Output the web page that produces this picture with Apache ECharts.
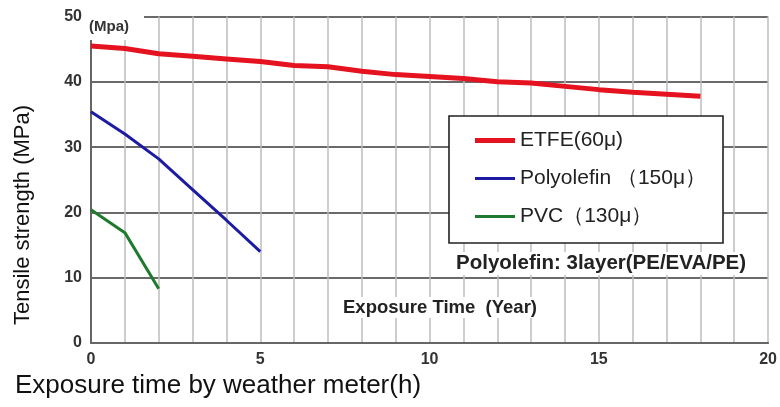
<!DOCTYPE html>
<html>
<head>
<meta charset="utf-8">
<script src="https://cdn.jsdelivr.net/npm/echarts@6/dist/echarts.min.js"></script>
<style>
  html, body { margin: 0; padding: 0; background: #fff; }
  #chart { width: 780px; height: 407px; }
</style>
</head>
<body>
<div id="chart"></div>
<script>
// Tensile strength retention of greenhouse films over outdoor exposure
const years = [0, 1, 2, 3, 4, 5, 6, 7, 8, 9, 10, 11, 12, 13, 14, 15, 16, 17, 18];
const etfe = [45.5, 45.1, 44.3, 43.9, 43.5, 43.1, 42.5, 42.3, 41.6, 41.1, 40.8, 40.5, 40.0, 39.8, 39.3, 38.8, 38.4, 38.1, 37.8];
const polyolefin = [35.4, 32.0, 28.2, 23.5, 18.8, 14.0];
const pvc = [20.4, 16.9, 8.3];
const seriesNames = ['ETFE(60\u03bc)', 'Polyolefin \uff08150\u03bc\uff09', 'PVC\uff08130\u03bc\uff09'];
const xTicks = [0, 5, 10, 15, 20];
const yTicks = [0, 10, 20, 30, 40, 50];

const pairs = (xs, ys) => ys.map((v, i) => [xs[i], v]);

const chart = echarts.init(document.getElementById('chart'), null, { renderer: 'canvas' });

const labelFont = { fontFamily: 'Liberation Sans, Arial, sans-serif', fontWeight: 'bold' };
const thickIcon = 'path://M0,4 L40,4 L40,9 L0,9 Z';
const thinIcon = 'path://M0,5 L40,5 L40,8 L0,8 Z';

chart.setOption({
  animation: false,
  backgroundColor: '#fff',
  grid: { left: 91, right: 4, top: 16.5, bottom: 64, containLabel: false },
  xAxis: {
    type: 'value',
    min: 0, max: 20, interval: 1,
    axisLine: { show: true, lineStyle: { color: '#666', width: 2 } },
    axisTick: { show: false },
    splitLine: { show: true, lineStyle: { color: '#bdbdbd', width: 1.5 } },
    axisLabel: {
      margin: 9,
      color: '#333', fontSize: 16, ...labelFont,
      formatter: v => (xTicks.indexOf(v) >= 0 ? String(v) : '')
    }
  },
  yAxis: {
    type: 'value',
    min: 0, max: 50, interval: 10,
    axisLine: { show: true, lineStyle: { color: '#666', width: 2 } },
    axisTick: { show: false },
    splitLine: { show: true, lineStyle: { color: '#6a6a6a', width: 2 } },
    axisLabel: {
      margin: 9,
      color: '#333', fontSize: 16, ...labelFont,
      formatter: v => (yTicks.indexOf(v) >= 0 ? String(v) : '')
    }
  },
  legend: {
    orient: 'vertical',
    left: 470, top: 125,
    itemWidth: 40, itemHeight: 14, itemGap: 17,
    z: 10,
    textStyle: { color: '#222', fontSize: 21, fontFamily: 'Liberation Sans, Arial, sans-serif', padding: [0, 0, 0, 0] },
    data: [
      { name: seriesNames[0], icon: thickIcon },
      { name: seriesNames[1], icon: thinIcon },
      { name: seriesNames[2], icon: thinIcon }
    ]
  },
  series: [
    {
      name: seriesNames[0], type: 'line', data: pairs(years, etfe),
      showSymbol: false, smooth: false,
      lineStyle: { color: '#e5121f', width: 5 }, itemStyle: { color: '#e5121f' }, z: 3
    },
    {
      name: seriesNames[1], type: 'line', data: pairs(years, polyolefin),
      showSymbol: false,
      lineStyle: { color: '#1c1ca2', width: 3 }, itemStyle: { color: '#1c1ca2' }, z: 3
    },
    {
      name: seriesNames[2], type: 'line', data: pairs(years, pvc),
      showSymbol: false,
      lineStyle: { color: '#1e7a2c', width: 3 }, itemStyle: { color: '#1e7a2c' }, z: 3
    }
  ],
  graphic: [
    // white patch behind the unit label in the top-left corner
    { type: 'rect', z: 5, shape: { x: 86, y: 8, width: 58, height: 32 }, style: { fill: '#fff' } },
    { type: 'text', z: 6, left: 89, top: 19,
      style: { text: '(Mpa)', fill: '#333', font: 'bold 15px Liberation Sans, Arial, sans-serif' } },
    // legend frame
    { type: 'rect', z: 5, shape: { x: 449, y: 116, width: 274, height: 127 },
      style: { fill: '#fff', stroke: '#222', lineWidth: 1.6 } },
    { type: 'text', z: 6, left: 455, top: 252,
      style: { text: 'Polyolefin: 3layer(PE/EVA/PE)', fill: '#222', backgroundColor: '#fff',
               padding: [1, 1], font: 'bold 20.5px Liberation Sans, Arial, sans-serif' } },
    { type: 'text', z: 6, left: 342, top: 297,
      style: { text: 'Exposure Time  (Year)', fill: '#222', backgroundColor: '#fff',
               padding: [1, 1], font: 'bold 18.5px Liberation Sans, Arial, sans-serif' } },
    { type: 'text', z: 6, x: 23, y: 215, rotation: Math.PI / 2,
      style: { text: 'Tensile strength (MPa)', fill: '#111', textAlign: 'center', textVerticalAlign: 'middle',
               font: '22px Liberation Sans, Arial, sans-serif' } },
    { type: 'text', z: 6, x: 15, y: 386,
      style: { text: 'Exposure time by weather meter(h)', fill: '#111', textAlign: 'left', textVerticalAlign: 'middle',
               font: '26px Liberation Sans, Arial, sans-serif' } }
  ]
});
</script>
</body>
</html>
